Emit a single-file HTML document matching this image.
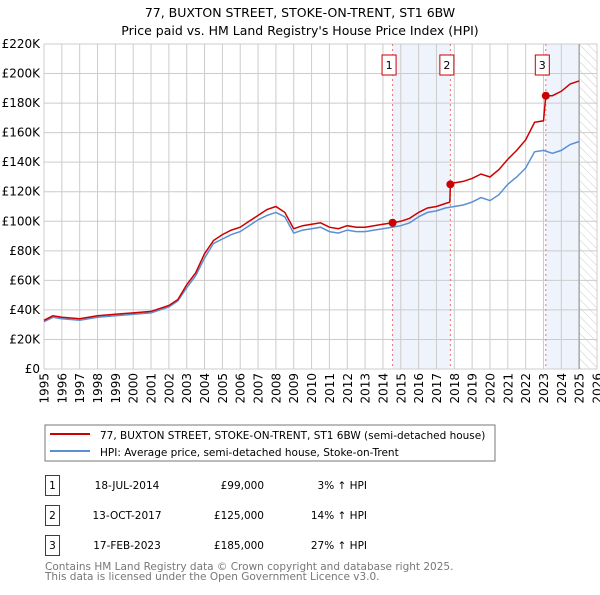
<!DOCTYPE html>
<html><head><meta charset="utf-8"><style>
body{margin:0;background:#fff}
svg{font-family:"DejaVu Sans","Liberation Sans",sans-serif}
</style></head><body>
<svg id="c" width="600" height="590" viewBox="0 0 600 590">
<defs><pattern id="hatch" width="6" height="6" patternUnits="userSpaceOnUse" patternTransform="rotate(-45)"><line x1="0" y1="0" x2="0" y2="6" stroke="#ccc" stroke-width="1"/></pattern></defs>
<text x="300" y="17" text-anchor="middle" font-size="12.5">77, BUXTON STREET, STOKE-ON-TRENT, ST1 6BW</text>
<text x="300" y="35" text-anchor="middle" font-size="12.5">Price paid vs. HM Land Registry's House Price Index (HPI)</text>
<g id="plot"></g>
<g>
<rect x="45" y="425" width="450" height="36" fill="#fff" stroke="#777"/>
<line x1="50" y1="434" x2="90" y2="434" stroke="#cc0000" stroke-width="2"/>
<text x="100" y="439" font-size="10.5">77, BUXTON STREET, STOKE-ON-TRENT, ST1 6BW (semi-detached house)</text>
<line x1="50" y1="451" x2="90" y2="451" stroke="#5b8fd4" stroke-width="2"/>
<text x="100" y="456" font-size="10.5">HPI: Average price, semi-detached house, Stoke-on-Trent</text>
</g>
<g id="table" font-size="10.5"></g>
<text x="45" y="570" font-size="10.5" fill="#777">Contains HM Land Registry data © Crown copyright and database right 2025.</text>
<text x="45" y="580" font-size="10.5" fill="#777">This data is licensed under the Open Government Licence v3.0.</text>
</svg>
<script>
const hpiDates=[1995,1995.5,1996,1997,1998,1999,2000,2001,2002,2002.5,2003,2003.5,2004,2004.5,2005,2005.5,2006,2006.5,2007,2007.5,2008,2008.5,2009,2009.5,2010,2010.5,2011,2011.5,2012,2012.5,2013,2013.5,2014,2014.5,2015,2015.5,2016,2016.5,2017,2017.5,2018,2018.5,2019,2019.5,2020,2020.5,2021,2021.5,2022,2022.5,2023,2023.5,2024,2024.5,2025];
const hpiValues=[32,35,34,33,35,36,37,38,42,46,55,63,75,85,88,91,93,97,101,104,106,103,92,94,95,96,93,92,94,93,93,94,95,96,97,99,103,106,107,109,110,111,113,116,114,118,125,130,136,147,148,146,148,152,154];
const priceDates=[1995,1995.5,1996,1997,1998,1999,2000,2001,2002,2002.5,2003,2003.5,2004,2004.5,2005,2005.5,2006,2006.5,2007,2007.5,2008,2008.5,2009,2009.5,2010,2010.5,2011,2011.5,2012,2012.5,2013,2013.5,2014,2014.54,2015,2015.5,2016,2016.5,2017,2017.5,2017.75,2017.78,2018,2018.5,2019,2019.5,2020,2020.5,2021,2021.5,2022,2022.5,2023,2023.13,2023.5,2024,2024.5,2025];
const priceValues=[33,36,35,34,36,37,38,39,43,47,57,65,78,87,91,94,96,100,104,108,110,106,95,97,98,99,96,95,97,96,96,97,98,99,100,102,106,109,110,112,113,125,126,127,129,132,130,135,142,148,155,167,168,185,185,188,193,195];
const saleDates=[2014.54,2017.78,2023.13];
const saleValues=[99,125,185];
const saleLabels=["1","2","3"];
const saleDateText=["18-JUL-2014","13-OCT-2017","17-FEB-2023"];
const salePriceText=["£99,000","£125,000","£185,000"];
const saleHpiText=["3% ↑ HPI","14% ↑ HPI","27% ↑ HPI"];
const yTicks=[0,20,40,60,80,100,120,140,160,180,200,220];
const xTicks=[1995,1996,1997,1998,1999,2000,2001,2002,2003,2004,2005,2006,2007,2008,2009,2010,2011,2012,2013,2014,2015,2016,2017,2018,2019,2020,2021,2022,2023,2024,2025,2026];
const X0=44,X1=597,Y0=369,Y1=44;
const sx=d=>X0+(d-1995)/(2026-1995)*(X1-X0);
const sy=v=>Y0-v/220*(Y0-Y1);
const NS="http://www.w3.org/2000/svg";
function mk(tag,attrs,parent,txt){const e=document.createElementNS(NS,tag);for(const k in attrs)e.setAttribute(k,attrs[k]);if(txt!==undefined)e.textContent=txt;parent.appendChild(e);return e;}
const g=document.getElementById('plot');
let r=mk('rect',{x:sx(saleDates[0]),y:Y1,width:sx(saleDates[1])-sx(saleDates[0]),height:Y0-Y1,fill:'#eef3fc'},g);


r=mk('rect',{x:sx(saleDates[2]),y:Y1,width:sx(2025)-sx(saleDates[2]),height:Y0-Y1,fill:'#eef3fc'},g);


r=mk('rect',{x:sx(2025),y:Y1,width:X1-sx(2025),height:Y0-Y1,fill:'url(#hatch)'},g);


xTicks.forEach(t=>{const l=mk('line',{x1:sx(t),x2:sx(t),y1:Y1,y2:Y0,stroke:'#ccc'},g);


const tx=mk('text',{x:0,y:0,'text-anchor':'end','font-size':12,transform:'translate('+(sx(t)+4.5)+','+(Y0+4)+') rotate(-90)'},g,String(t));

});
yTicks.forEach(t=>{const l=mk('line',{x1:X0,x2:X1,y1:sy(t),y2:sy(t),stroke:'#ccc'},g);


const tx=mk('text',{x:X0-4,y:sy(t)+4,'text-anchor':'end','font-size':12},g,t===0?'£0':'£'+t+'K');

});
const l2=mk('line',{x1:sx(2025),x2:sx(2025),y1:Y1,y2:Y0,stroke:'#aaa','stroke-width':1.5},g);


saleDates.forEach((d,i)=>{const l=mk('line',{x1:sx(d),x2:sx(d),y1:Y1,y2:Y0,stroke:'#f07070','stroke-dasharray':'2,3'},g);


const b=mk('rect',{x:sx(d)-10.5,y:55,width:14,height:20,fill:'#fff',stroke:'#cc0000'},g);


mk('text',{x:sx(d)-3.5,y:69,'text-anchor':'middle','font-size':11},g,saleLabels[i]);});
const pts=(ds,vs)=>ds.map((d,i)=>sx(d).toFixed(1)+','+sy(vs[i]).toFixed(1)).join(' ');
let p=mk('polyline',{points:pts(hpiDates,hpiValues),fill:'none',stroke:'#5b8fd4','stroke-width':1.5},g);


p=mk('polyline',{points:pts(priceDates,priceValues),fill:'none',stroke:'#cc0000','stroke-width':1.5},g);


saleDates.forEach((d,i)=>{const c=mk('circle',{cx:sx(d),cy:sy(saleValues[i]),r:4,fill:'#cc0000'},g);

});
const tb=document.getElementById('table');
saleLabels.forEach((s,i)=>{const y=475+i*30;
const b=mk('rect',{x:45.5,y:y+0.5,width:14,height:20,fill:'#fff',stroke:'#cc0000'},tb);


mk('text',{x:52.5,y:y+14,'text-anchor':'middle'},tb,s);
let t=mk('text',{x:127,y:y+14,'text-anchor':'middle'},tb,saleDateText[i]);


t=mk('text',{x:264,y:y+14,'text-anchor':'end'},tb,salePriceText[i]);


t=mk('text',{x:367,y:y+14,'text-anchor':'end'},tb,saleHpiText[i]);

});
</script>
</body></html>
